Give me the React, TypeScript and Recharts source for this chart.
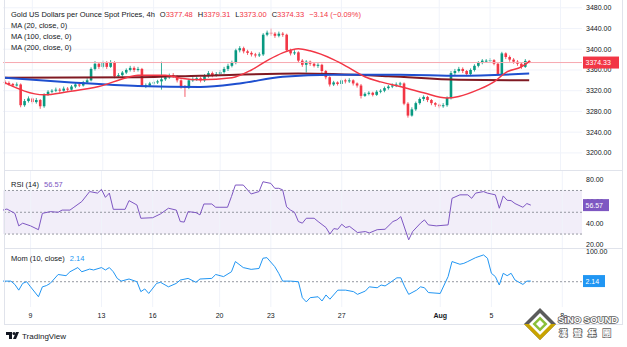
import React from 'react'
import { ComposedChart, Bar, Line, XAxis, YAxis, CartesianGrid, ReferenceLine, ReferenceArea } from 'recharts'

const FONT = '"Liberation Sans", Arial, sans-serif'
const UP = '#089981'
const DOWN = '#f23645'
const INK = '#131722'
const GRID = '#f0f3fa'

// 4h candles, open = previous close
const firstOpen = 3337
const closes = [
  3335, 3333, 3330, 3332, 3292, 3300, 3305, 3298, 3302, 3290,
  3313, 3318, 3320, 3322, 3320, 3324, 3322, 3328, 3332, 3330,
  3336, 3340, 3362, 3372, 3366, 3374, 3366, 3375, 3348, 3350,
  3355, 3360, 3364, 3360, 3362, 3330, 3330, 3334, 3336, 3338,
  3342, 3346, 3350, 3348, 3340, 3328, 3326, 3340, 3342, 3344,
  3340, 3348, 3354, 3350, 3352, 3356, 3362, 3368, 3374, 3398,
  3402, 3396, 3393, 3390, 3388, 3390, 3428, 3432, 3430, 3426,
  3430, 3428, 3398, 3392, 3394, 3378, 3370, 3376, 3372, 3368,
  3370, 3358, 3346, 3332, 3336, 3333, 3340, 3338, 3340, 3334,
  3330, 3310, 3314, 3316, 3312, 3318, 3320, 3325, 3328, 3330,
  3332, 3334, 3295, 3272, 3284, 3296, 3304, 3308, 3302, 3296,
  3293, 3290, 3292, 3306, 3354, 3358, 3362, 3358, 3352, 3360,
  3368, 3374, 3378, 3378, 3379, 3372, 3352, 3392, 3385, 3380,
  3376, 3372, 3366, 3377.48, 3374.33,
]
const highs = [
  3340, 3338, 3335, 3336, 3334, 3304, 3309, 3307, 3306, 3304,
  3315, 3321, 3323, 3326, 3325, 3328, 3327, 3331, 3335, 3336,
  3339, 3344, 3365, 3377, 3375, 3378, 3377, 3379, 3377, 3354,
  3358, 3363, 3368, 3367, 3366, 3364, 3334, 3337, 3339, 3341,
  3376, 3350, 3353, 3354, 3350, 3342, 3331, 3343, 3346, 3348,
  3347, 3352, 3358, 3357, 3356, 3360, 3366, 3372, 3378, 3401,
  3406, 3405, 3399, 3396, 3393, 3394, 3431, 3436, 3440, 3433,
  3434, 3433, 3430, 3401, 3398, 3396, 3381, 3379, 3378, 3375,
  3373, 3372, 3360, 3348, 3339, 3338, 3343, 3343, 3344, 3342,
  3336, 3333, 3317, 3319, 3318, 3321, 3323, 3328, 3331, 3334,
  3336, 3337, 3336, 3298, 3288, 3299, 3307, 3311, 3310, 3304,
  3298, 3295, 3296, 3309, 3358, 3362, 3366, 3365, 3360, 3363,
  3371, 3377, 3381, 3381, 3383, 3381, 3374, 3395, 3394, 3388,
  3383, 3379, 3375, 3381, 3379.31,
]
const lows = [
  3332, 3330, 3327, 3328, 3288, 3289, 3297, 3294, 3295, 3285,
  3287, 3310, 3315, 3317, 3316, 3318, 3319, 3320, 3325, 3327,
  3328, 3333, 3338, 3359, 3362, 3363, 3362, 3364, 3344, 3345,
  3347, 3352, 3357, 3356, 3357, 3327, 3325, 3327, 3331, 3333,
  3322, 3339, 3343, 3345, 3336, 3324, 3308, 3323, 3337, 3339,
  3336, 3337, 3345, 3346, 3347, 3349, 3353, 3358, 3365, 3371,
  3394, 3392, 3389, 3386, 3384, 3385, 3387, 3425, 3426, 3422,
  3423, 3424, 3395, 3388, 3389, 3374, 3366, 3355, 3368, 3365,
  3364, 3354, 3342, 3328, 3329, 3330, 3322, 3334, 3335, 3330,
  3326, 3305, 3308, 3311, 3309, 3310, 3315, 3317, 3322, 3325,
  3327, 3329, 3292, 3268, 3270, 3281, 3293, 3300, 3298, 3292,
  3289, 3286, 3287, 3289, 3303, 3350, 3355, 3354, 3348, 3350,
  3357, 3365, 3371, 3375, 3375, 3369, 3349, 3350, 3381, 3376,
  3372, 3368, 3362, 3364, 3373,
]

// moving averages, read at candle index
const ma20 = [[0, 3335], [10, 3312], [16, 3318], [24, 3328], [31, 3345], [34, 3350], [41, 3350], [45, 3344], [50, 3341], [58, 3345], [63, 3360], [67, 3378], [71, 3393], [75, 3401], [78, 3397], [84, 3380], [88, 3364], [92, 3347], [96, 3337], [101, 3328], [107, 3316], [113, 3306], [116, 3309], [121, 3322], [125, 3337], [128, 3355], [132, 3366], [134, 3376]]
const ma100 = [[0, 3345], [17, 3336], [34, 3329], [50, 3327], [60, 3334], [71, 3347], [84, 3351], [101, 3351], [116, 3349], [134, 3353]]
const ma200 = [[0, 3345], [34, 3346], [50, 3349], [75, 3353], [98, 3348], [116, 3341], [134, 3340]]

const rsi = [[0, 52], [1, 53], [3, 49], [4, 37.5], [5, 40], [7, 37.5], [9, 34], [10, 49], [12, 50.6], [14, 50], [15, 52], [17, 52], [18, 54.6], [20, 59.8], [22, 69], [24, 67.6], [25, 71], [26, 63.7], [27, 67.6], [28, 52.7], [31, 52.7], [32, 60.7], [34, 56.7], [35, 44.5], [38, 45], [40, 48.5], [42, 53.7], [44, 52], [45, 41.5], [46, 41], [47, 50.6], [49, 49.7], [50, 47.6], [51, 57.6], [53, 57.6], [54, 54.6], [57, 54.6], [58, 64.4], [59, 75], [61, 75], [63, 66.8], [65, 69], [66, 78], [68, 76.5], [69, 72], [70, 72], [71, 70.6], [72, 55], [73, 52], [74, 50], [75, 41.5], [76, 40], [77, 44.5], [79, 44.5], [80, 41.5], [82, 36], [83, 30], [84, 35], [85, 34.4], [86, 39], [87, 36], [88, 37], [90, 31.4], [92, 32.3], [93, 31], [95, 34], [97, 34.4], [99, 41.5], [100, 43], [101, 46], [103, 24.7], [104, 32.3], [106, 40], [107, 43], [108, 38.4], [110, 37.5], [113, 38.4], [114, 62.8], [116, 66], [118, 66], [119, 62.8], [120, 67.6], [122, 69], [123, 67.6], [125, 66], [126, 53.7], [127, 65], [128, 61], [129, 60.7], [130, 58], [132, 54.6], [133, 58], [134, 56.57]]

const mom = [[0, 2], [2, 2], [3, -9], [4, -28], [5, -5.5], [6, 0], [7, -17], [9, -50], [10, -17], [11, -13], [12, -5.5], [14, 24], [16, 20], [17, 33], [19, 47], [20, 33], [22, 42], [23, 39], [25, 47], [26, 39], [27, 47], [28, 33], [29, 11], [30, 2], [32, 9], [34, 0], [35, -33], [36, -24], [37, -39], [39, -5.5], [40, -2], [42, -17], [44, -5.5], [45, 5.5], [47, 11], [49, -2], [50, 9], [53, 11], [54, 24], [56, 17], [58, 33], [59, 67], [61, 47], [63, 41], [65, 44], [66, 78], [67, 80], [69, 50], [70, 28], [71, 2], [73, 2], [75, 0], [76, -53], [77, -67], [78, -53], [80, -50], [81, -64], [82, -44], [83, -58], [85, -28], [87, -28], [89, -33], [90, -42], [92, -31], [93, -17], [95, -20], [96, -11], [97, -14], [98, -5.5], [100, 13], [101, 13], [102, -17], [103, -42], [105, -28], [106, -17], [107, -20], [108, -36], [111, -39], [113, 17], [114, 67], [116, 58], [117, 61], [118, 67], [120, 80], [122, 89], [123, 78], [124, 28], [125, 17], [126, -11], [127, 28], [128, 20], [129, 28], [130, 5.5], [132, -9], [133, 2], [134, 2.14]]

const dayTicks = [[7, '9'], [25, '13'], [38, '16'], [55, '20'], [68, '23'], [86, '27'], [111, 'Aug'], [124, '5'], [142, '8']]
const priceTicks = [3200, 3240, 3280, 3320, 3360, 3400, 3440, 3480]
const rsiTicks = [20, 40, 60, 80]
const momTicks = [100]
const lastPrice = 3374.33
const lastRsi = 56.57
const lastMom = 2.14
const SLOTS = 148

const rows: any[] = Array.from({ length: SLOTS }, (_, i) => {
  const row: any = { i }
  if (i < closes.length) {
    row.open = i === 0 ? firstOpen : closes[i - 1]
    row.close = closes[i]
    row.high = highs[i]
    row.low = lows[i]
    row.range = [lows[i], highs[i]]
  }
  return row
})
const put = (pts: number[][], key: string) => pts.forEach(([i, v]) => { rows[i][key] = v })
put(ma20, 'ma20')
put(ma100, 'ma100')
put(ma200, 'ma200')
put(rsi, 'rsi')
put(mom, 'mom')
const dayLabel: Record<number, string> = {}
dayTicks.forEach(([i, s]) => { dayLabel[i as number] = s as string })

const Candle = (props: any) => {
  const { x, y, width, height, payload } = props
  if (payload == null || payload.open == null) return null
  const { open, close, high, low } = payload
  const color = close >= open ? UP : DOWN
  const k = high === low ? 0 : height / (high - low)
  const cx = x + width / 2
  const yO = y + (high - open) * k
  const yC = y + (high - close) * k
  const top = Math.min(yO, yC)
  const h = Math.max(1, Math.abs(yO - yC))
  return (
    <g>
      <line x1={cx} x2={cx} y1={y} y2={y + height} stroke={color} strokeWidth={0.8} />
      <rect x={cx - 1.3} y={top} width={2.6} height={h} fill={color} />
    </g>
  )
}

// value labels; the last value (listed last in ticks) is drawn as a coloured tag on top
const ValTick = ({ x, y, payload, tag, fill, w }: any) => {
  const txt = Number(payload.value).toFixed(2)
  if (payload.value === tag) {
    return (
      <g>
        <rect x={x - 3} y={y - 6} width={w} height={12} fill={fill} />
        <text x={x - 0.5} y={y + 2.5} fontSize={7} fill="#fff" fontFamily={FONT}>{txt}</text>
      </g>
    )
  }
  return (
    <text x={x} y={y} dy={2.5} fontSize={7} fill={INK} fontFamily={FONT} textAnchor="start">{txt}</text>
  )
}

const DayTick = ({ x, y, payload }: any) => {
  const s = dayLabel[payload.value]
  if (!s) return null
  return (
    <text x={x} y={y + 11} fontSize={7} fill={INK} fontFamily={FONT} textAnchor="middle" fontWeight={s === 'Aug' ? 'bold' : 'normal'}>
      {s}
    </text>
  )
}

const margin = { top: 0, right: 0, left: 3, bottom: 0 }

const dayLines = dayTicks.map(([i]) => (
  <ReferenceLine key={`d${i}`} x={i as number} stroke={GRID} strokeWidth={1} />
))

const abs = (left: number, top: number): React.CSSProperties => ({ position: 'absolute', left, top, whiteSpace: 'nowrap', lineHeight: 1 })

export default function App() {
  return (
    <div style={{ position: 'absolute', left: 0, top: 0, width: 627, height: 347, background: '#fff', fontFamily: FONT, overflow: 'hidden' }}>
      <div style={{ position: 'absolute', left: 0, top: 0 }}>
        <ComposedChart width={627} height={170} data={rows} margin={margin} barCategoryGap={0}>
          <CartesianGrid vertical={false} stroke={GRID} horizontalValues={priceTicks} />
          {dayLines}
          <XAxis dataKey="i" type="category" hide />
          <YAxis orientation="right" width={45} domain={[3167, 3495]} allowDataOverflow ticks={[...priceTicks, lastPrice]} interval={0} tick={<ValTick tag={lastPrice} fill={DOWN} w={36} />} tickLine={false} axisLine={false} tickSize={0} tickMargin={4} />
          <ReferenceLine y={lastPrice} stroke="#f7a9b0" strokeWidth={1} />
          <Line dataKey="ma200" stroke="#801922" strokeWidth={2} dot={false} connectNulls type="monotone" isAnimationActive={false} />
          <Line dataKey="ma100" stroke="#1e4fcf" strokeWidth={2} dot={false} connectNulls type="monotone" isAnimationActive={false} />
          <Bar dataKey="range" shape={<Candle />} isAnimationActive={false} />
          <Line dataKey="ma20" stroke="#f23645" strokeWidth={1.5} dot={false} connectNulls type="monotone" isAnimationActive={false} />
        </ComposedChart>
      </div>
      <div style={{ position: 'absolute', left: 0, top: 170 }}>
        <ComposedChart width={627} height={78} data={rows} margin={margin}>
          {dayLines}
          <XAxis dataKey="i" type="category" hide />
          <YAxis orientation="right" width={45} domain={[17.2, 88.8]} allowDataOverflow ticks={[...rsiTicks, lastRsi]} interval={0} tick={<ValTick tag={lastRsi} fill="#7e57c2" w={26} />} tickLine={false} axisLine={false} tickSize={0} tickMargin={4} />
          <ReferenceArea y1={30} y2={70} fill="#7e57c2" fillOpacity={0.1} stroke="none" />
          <ReferenceLine y={70} stroke="#9598a1" strokeDasharray="2 2" />
          <ReferenceLine y={50} stroke="#9598a1" strokeDasharray="2 2" />
          <ReferenceLine y={30} stroke="#9598a1" strokeDasharray="2 2" />
          <Line dataKey="rsi" stroke="#7e57c2" strokeWidth={1} dot={false} connectNulls type="linear" isAnimationActive={false} />
        </ComposedChart>
      </div>
      <div style={{ position: 'absolute', left: 0, top: 248 }}>
        <ComposedChart width={627} height={76} data={rows} margin={margin}>
          {dayLines}
          <XAxis dataKey="i" type="category" interval={0} tick={<DayTick />} tickLine={false} axisLine={false} tickSize={0} tickMargin={0} height={17} />
          <YAxis orientation="right" width={45} domain={[-84, 112]} allowDataOverflow ticks={[...momTicks, lastMom]} interval={0} tick={<ValTick tag={lastMom} fill="#2196f3" w={22} />} tickLine={false} axisLine={false} tickSize={0} tickMargin={4} />
          <ReferenceLine y={0} stroke="#9598a1" strokeDasharray="2 2" />
          <Line dataKey="mom" stroke="#2196f3" strokeWidth={1} dot={false} connectNulls type="linear" isAnimationActive={false} />
        </ComposedChart>
      </div>

      {/* pane separators and frame */}
      <div style={{ position: 'absolute', left: 4, top: 170, width: 618, height: 1, background: '#e0e3eb' }} />
      <div style={{ position: 'absolute', left: 4, top: 248, width: 618, height: 1, background: '#e0e3eb' }} />
      <div style={{ position: 'absolute', left: 4, top: 324, width: 618, height: 1, background: '#e0e3eb' }} />
      <div style={{ position: 'absolute', left: 4, top: 0, width: 1, height: 325, background: '#e0e3eb' }} />
      <div style={{ position: 'absolute', left: 622, top: 0, width: 1, height: 325, background: '#e0e3eb' }} />

      {/* legends */}
      <div style={{ ...abs(11, 11), fontSize: 7.5, color: INK }}>
        Gold US Dollars per Ounce Spot Prices, 4h
        <span style={{ marginLeft: 5 }}>O<span style={{ color: DOWN }}>3377.48</span></span>
        <span style={{ marginLeft: 5 }}>H<span style={{ color: DOWN }}>3379.31</span></span>
        <span style={{ marginLeft: 5 }}>L<span style={{ color: DOWN }}>3373.00</span></span>
        <span style={{ marginLeft: 5 }}>C<span style={{ color: DOWN }}>3374.33</span></span>
        <span style={{ marginLeft: 5, color: DOWN }}>−3.14 (−0.09%)</span>
      </div>
      <div style={{ ...abs(11, 22), fontSize: 7.5, color: INK }}>MA (20, close, 0)</div>
      <div style={{ ...abs(11, 33), fontSize: 7.5, color: INK }}>MA (100, close, 0)</div>
      <div style={{ ...abs(11, 44), fontSize: 7.5, color: INK }}>MA (200, close, 0)</div>
      <div style={{ ...abs(11, 181), fontSize: 7.5, color: INK }}>
        RSI (14) <span style={{ color: '#7e57c2', marginLeft: 3 }}>56.57</span>
      </div>
      <div style={{ ...abs(11, 255), fontSize: 7.5, color: INK }}>
        Mom (10, close) <span style={{ color: '#2196f3', marginLeft: 3 }}>2.14</span>
      </div>

      {/* TradingView mark */}
      <svg style={{ position: 'absolute', left: 0, top: 328 }} width={80} height={16}>
        <path d="M6 4 h6 v7 h-3 v-4 h-3 z" fill={INK} />
        <circle cx={14} cy={5.5} r={1.5} fill={INK} />
        <path d="M16 4 h3 l-3 7 h-3 z" fill={INK} />
        <text x={22} y={11} fontSize={8} fill={INK} fontFamily={FONT}>TradingView</text>
      </svg>

      {/* watermark */}
      <svg style={{ position: 'absolute', left: 520, top: 300 }} width={107} height={47}>
        <polygon points="20,8 36,24 20,40 4,24" fill="#5b5b5b" />
        <polygon points="4,24 36,24 20,40" fill="#c9a400" />
        <polygon points="20,13 31,24 20,35 9,24" fill="#ffffff" />
        <polygon points="20,16.5 27.5,24 20,31.5 12.5,24" fill="#8bbf3a" />
        <polygon points="20,20 24,24 20,28 16,24" fill="#ffffff" />
        <text x={38} y={23} fontSize={9.5} fontWeight="bold" fill="#fff" stroke="#5f5f5f" strokeWidth={1.6} paintOrder="stroke" fontFamily={FONT}>SiNO SOUND</text>
        <text x={39} y={36} fontSize={8.5} fontWeight="bold" fill="#fff" stroke="#5f5f5f" strokeWidth={1.4} paintOrder="stroke" letterSpacing={6} fontFamily='"Noto Sans CJK TC", sans-serif'>漢聲集團</text>
      </svg>
    </div>
  )
}
